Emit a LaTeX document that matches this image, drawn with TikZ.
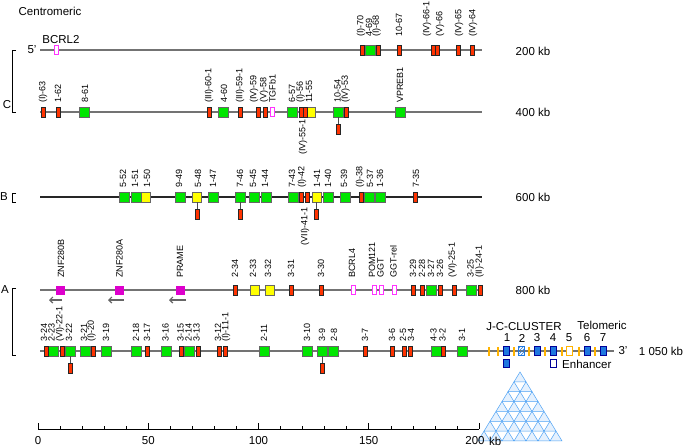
\documentclass[tikz,border=0pt]{standalone}
\usepackage{fontspec}
\setmainfont{Liberation Sans}
\usetikzlibrary{arrows.meta,patterns}
\definecolor{redgene}{HTML}{FF3300}
\definecolor{greengene}{HTML}{00E600}
\definecolor{yellowgene}{HTML}{FFFF00}
\definecolor{pinkgene}{HTML}{FF33FF}
\definecolor{maggene}{HTML}{DD00CC}
\definecolor{bluegene}{HTML}{1F78E0}
\definecolor{lightblue}{HTML}{4FA3F5}
\definecolor{jgene}{HTML}{FFB300}
\newcommand\rowy{50}
\newcommand\laboff{13}
\newcommand\gene[5]{\node[#1] (#2) at (#3,\rowy) {}; \node[lab] (#2-l) at (#5,\rowy-\laboff) {#4};}
\newcommand\stalk[2]{\node[rg] (#1-b) at (#2,\rowy+17) {}; \draw[stalkline] (#1.south) -- (#1-b.north);}
\begin{document}
\begin{tikzpicture}[x=1pt,y=-1pt,
  rg/.style={rectangle,draw=black!85,fill=redgene,minimum width=4pt,minimum height=10pt,inner sep=0pt,line width=0.5pt},
  gg/.style={rectangle,draw=black!60,fill=greengene,minimum width=10pt,minimum height=10pt,inner sep=0pt,line width=0.5pt},
  yg/.style={rectangle,draw=black!60,fill=yellowgene,minimum width=9pt,minimum height=10pt,inner sep=0pt,line width=0.5pt},
  pg/.style={rectangle,draw=pinkgene,fill=white,minimum width=4pt,minimum height=9pt,inner sep=0pt,line width=0.7pt},
  mg/.style={rectangle,fill=maggene,minimum width=9pt,minimum height=9pt,inner sep=0pt},
  cb/.style={rectangle,draw=blue!60!black,fill=bluegene,minimum width=6pt,minimum height=9pt,inner sep=0pt,line width=0.4pt},
  jg/.style={rectangle,fill=jgene,minimum width=2pt,minimum height=9pt,inner sep=0pt},
  lab/.style={rotate=90,anchor=west,inner sep=0pt,font=\fontsize{9}{10}\selectfont},
  labdown/.style={rotate=90,anchor=east,inner sep=0pt,font=\fontsize{9}{10}\selectfont},
  txt/.style={inner sep=0pt,font=\fontsize{11.5}{13}\selectfont},
  chrom/.style={draw=black!55,line width=1.1pt},
  stalkline/.style={draw=black!70,line width=0.8pt},
  dirarrow/.style={draw=black!60,line width=1.2pt,-{Straight Barb[length=3pt,width=6pt]}},
  bracket/.style={draw=black,line width=0.8pt},
  tri/.style={draw=lightblue,line width=0.5pt,fill=lightblue!15}
  ]
\useasboundingbox (0,0) rectangle (684,447);
\fill[white] (0,0) rectangle (684,447);

% --- texts
\node[txt] (centro) at (50,11) {Centromeric};
\node[txt] (telo) at (602,325) {Telomeric};
\node[txt] (p5) at (32,50) {5'};
\node[txt] (p3) at (623,351) {3'};
\node[txt] (kb200) at (533,51) {200 kb};
\node[txt] (kb400) at (533,112) {400 kb};
\node[txt] (kb600) at (533,197) {600 kb};
\node[txt] (kb800) at (533,290) {800 kb};
\node[txt] (kb1050) at (661,351) {1 050 kb};

% --- brackets
\node[txt] (lC) at (7,105) {C};
\draw[bracket] (16,50) -- (12,50) -- (12,112) -- (16,112);
\node[txt] (lB) at (4,197) {B};
\draw[bracket] (16,193) -- (12,193) -- (12,202) -- (16,202);
\node[txt] (lA) at (5,290) {A};
\draw[bracket] (16,288) -- (12,288) -- (12,355) -- (16,355);

% --- chromosome lines
\coordinate (r1s) at (40,50);  \coordinate (r1e) at (482,50);
\coordinate (r2s) at (40,112); \coordinate (r2e) at (482,112);
\coordinate (r3s) at (40,197); \coordinate (r3e) at (482,197);
\coordinate (r4s) at (40,290); \coordinate (r4e) at (482,290);
\coordinate (r5s) at (40,351); \coordinate (r5e) at (614,351);
\draw[chrom] (r1s) -- (r1e);
\draw[chrom] (r2s) -- (r2e);
\draw[chrom,draw=black!85] (r3s) -- (r3e);
\draw[chrom] (r4s) -- (r4e);
\draw[chrom] (r5s) -- (r5e);

% ===== row 1 (200 kb)
\renewcommand\rowy{50}\renewcommand\laboff{13}
\node[pg] (bcrl2) at (56,50) {};
\node[txt] (bcrl2-l) at (61,40) {BCRL2};
\gene{gg}{c69}{370}{4-69}{369}
\gene{rg}{c70}{362}{(I)-70}{361}
\gene{rg}{c68}{378.5}{(I)-68}{376.5}
\gene{rg}{c67}{399.5}{10-67}{399}
\gene{rg}{c661}{433}{(IV)-66-1}{427}
\gene{rg}{c66}{437}{(V)-66}{440}
\gene{rg}{c65}{458.5}{(IV)-65}{459}
\gene{rg}{c64}{472}{(IV)-64}{473}

% ===== row 2 (400 kb)
\renewcommand\rowy{112}\renewcommand\laboff{9}
\gene{rg}{c63}{43}{(I)-63}{43}
\gene{rg}{c62}{58.5}{1-62}{58}
\gene{gg}{c61}{84.5}{8-61}{85}
\gene{rg}{c601}{209}{(III)-60-1}{209}
\gene{gg}{c60}{223}{4-60}{224}
\gene{rg}{c591}{240}{(III)-59-1}{240}
\gene{rg}{c59}{258.5}{(IV)-59}{254}
\gene{rg}{c58}{265}{(V)-58}{264}
\gene{pg}{tgfb1}{272}{TGFb1}{272.5}
\gene{gg}{c57}{292}{6-57}{292}
\gene{yg}{c55}{311}{11-55}{309}
\gene{rg}{c56}{301}{(I)-56}{300.5}
\node[rg] (c551) at (305,112) {};
\node[labdown] (c551-l) at (303,119) {(IV)-55-1};
\gene{gg}{c54}{338}{10-54}{337.5}
\stalk{c54}{338}
\gene{rg}{c53}{346}{(IV)-53}{345.5}
\gene{gg}{vpreb1}{400}{VPREB1}{400}

% ===== row 3 (600 kb)
\renewcommand\rowy{197}\renewcommand\laboff{9}
\gene{gg}{b52}{124}{5-52}{123}
\gene{gg}{b51}{136}{1-51}{135}
\gene{yg}{b50}{146}{1-50}{147}
\gene{gg}{b49}{180}{9-49}{179}
\gene{yg}{b48}{197}{5-48}{198}
\stalk{b48}{197}
\gene{gg}{b47}{213}{1-47}{213}
\gene{gg}{b46}{240.5}{7-46}{240}
\stalk{b46}{240.5}
\gene{gg}{b45}{254}{5-45}{253}
\gene{gg}{b44}{266}{1-44}{265}
\gene{gg}{b43}{293}{7-43}{292}
\gene{rg}{b42}{301}{(I)-42}{302}
\node[rg] (b411) at (307,197) {};
\node[labdown] (b411-l) at (305,207) {(VII)-41-1};
\gene{yg}{b41}{316.5}{1-41}{317}
\stalk{b41}{316.5}
\gene{gg}{b40}{328}{1-40}{328}
\gene{gg}{b39}{345}{5-39}{344}
\gene{gg}{b37}{369}{5-37}{370}
\gene{rg}{b38}{361}{(I)-38}{360}
\gene{gg}{b36}{380}{1-36}{380}
\gene{rg}{b35}{415}{7-35}{416}

% ===== row 4 (800 kb)
\renewcommand\rowy{290}\renewcommand\laboff{12}
\gene{mg}{znfb}{60.5}{ZNF280B}{61}
\gene{mg}{znfa}{119.5}{ZNF280A}{119.5}
\gene{mg}{prame}{180}{PRAME}{180}
\coordinate (znfb-t) at (62,300);   \coordinate (znfb-h) at (49,300);
\coordinate (znfa-t) at (124,300);  \coordinate (znfa-h) at (108,300);
\coordinate (prame-t) at (186,300); \coordinate (prame-h) at (169,300);
\draw[dirarrow] (znfb-t) -- (znfb-h);
\draw[dirarrow] (znfa-t) -- (znfa-h);
\draw[dirarrow] (prame-t) -- (prame-h);
\gene{rg}{a34}{235.5}{2-34}{235}
\gene{yg}{a33}{254.5}{2-33}{253}
\gene{yg}{a32}{269.5}{3-32}{268}
\gene{rg}{a31}{291}{3-31}{291}
\gene{rg}{a30}{321}{3-30}{321}
\gene{pg}{bcrl4}{353}{BCRL4}{352}
\gene{pg}{pom121}{374}{POM121}{372}
\gene{pg}{ggt}{381}{GGT}{380.5}
\gene{pg}{ggtrel}{394.5}{GGT-rel}{393.5}
\gene{rg}{a29}{413}{3-29}{413}
\gene{rg}{a28}{422}{2-28}{422}
\gene{gg}{a27}{431.5}{3-27}{431}
\gene{rg}{a26}{440}{3-26}{440}
\gene{rg}{a251}{454}{(VI)-25-1}{452.5}
\gene{gg}{a25}{471.5}{3-25}{470.5}
\gene{rg}{a241}{480.5}{(II)-24-1}{479.5}

% ===== row 5 (1 050 kb)
\renewcommand\rowy{351}\renewcommand\laboff{9}
\gene{gg}{a23}{53}{2-23}{51.5}
\gene{rg}{a24}{46}{3-24}{44}
\gene{rg}{a221}{62}{(VI)-22-1}{60}
\gene{gg}{a22}{70.5}{3-22}{69}
\stalk{a22}{70.5}
\gene{gg}{a21}{85.5}{3-21}{84}
\gene{rg}{a20}{93}{(I)-20}{91.5}
\gene{gg}{a19}{106.5}{3-19}{106}
\gene{gg}{a18}{136.5}{2-18}{136}
\gene{rg}{a17}{147}{3-17}{147}
\gene{gg}{a16}{166.5}{3-16}{165.5}
\gene{gg}{a14}{189}{2-14}{188.5}
\gene{rg}{a15}{181}{3-15}{180.5}
\gene{rg}{a13}{198}{3-13}{196.5}
\gene{rg}{a12}{219}{3-12}{218}
\gene{rg}{a111}{225}{(I)-11-1}{226}
\gene{gg}{a11}{264.5}{2-11}{264}
\gene{gg}{a10}{307.5}{3-10}{307}
\gene{gg}{a9}{322}{3-9}{322}
\stalk{a9}{322}
\gene{gg}{a8}{333}{2-8}{334}
\gene{rg}{a7}{365}{3-7}{365}
\gene{rg}{a6}{392}{3-6}{392}
\gene{rg}{a5}{404}{2-5}{403}
\gene{rg}{a4}{410}{3-4}{411}
\gene{gg}{a3}{436}{4-3}{433.5}
\gene{rg}{a2}{443}{3-2}{442.5}
\gene{gg}{a1}{462}{3-1}{462}

% ===== J-C cluster
\node[txt] (jc) at (524,327) {J-C-CLUSTER};
\node[jg] (j1) at (489,351) {};
\node[jg] (j2) at (498,351) {};
\node[cb] (cl1) at (506,351) {};
\node[jg] (j3) at (514,351) {};
\node[cb,fill=white,pattern=north east lines,pattern color=bluegene,draw=bluegene] (cl2) at (521,351) {};
\node[jg] (j4) at (529,351) {};
\node[cb] (cl3) at (537,351) {};
\node[jg] (j5) at (545,351) {};
\node[cb] (cl4) at (553,351) {};
\node[jg] (j6) at (562,351) {};
\node[cb,fill=white,draw=jgene] (cl5) at (569,351) {};
\node[jg] (j7) at (579,351) {};
\node[cb] (cl6) at (587,351) {};
\node[jg] (j8) at (595,351) {};
\node[cb] (cl7) at (603,351) {};
\foreach \n/\x in {1/507,2/522,3/537,4/553,5/569,6/587,7/603}
  \node[txt] (num\n) at (\x,338) {\n};
\node[cb,minimum height=8pt] (cl1b) at (506,363) {};
\node[cb,fill=white,minimum height=8pt] (enh) at (553,363) {};
\node[txt,anchor=west] (enh-l) at (562,364) {Enhancer};
% triangle of small triangles
\foreach \i in {0,...,6}{
  \foreach \j in {0,...,\i}{
    \pgfmathsetmacro\xl{520-6*(\i+1)+12*\j}
    \pgfmathsetmacro\yt{372+9.85*\i}
    \draw[tri] (\xl,\yt+9.85) -- (\xl+6,\yt) -- (\xl+12,\yt+9.85) -- cycle;
  }
}

% ===== scale bar
\coordinate (s0) at (38,429); \coordinate (s200) at (479,429);
\draw[line width=0.8pt] (s0) -- (s200);
\foreach \k in {0,10,...,200}
  \draw[line width=0.6pt] ({38+2.205*\k},429) -- ({38+2.205*\k},426);
\foreach \k in {0,50,...,200}
  \draw[line width=0.8pt] ({38+2.205*\k},429) -- ({38+2.205*\k},423);
\foreach \k in {0,50,100,150}
  \node[txt] (s\k-l) at ({38+2.205*\k},441) {\k};
\node[txt] (s200-l) at (475,441) {200};
\node[txt,anchor=west] (skb) at (489,441) {kb};
\end{tikzpicture}
\end{document}
